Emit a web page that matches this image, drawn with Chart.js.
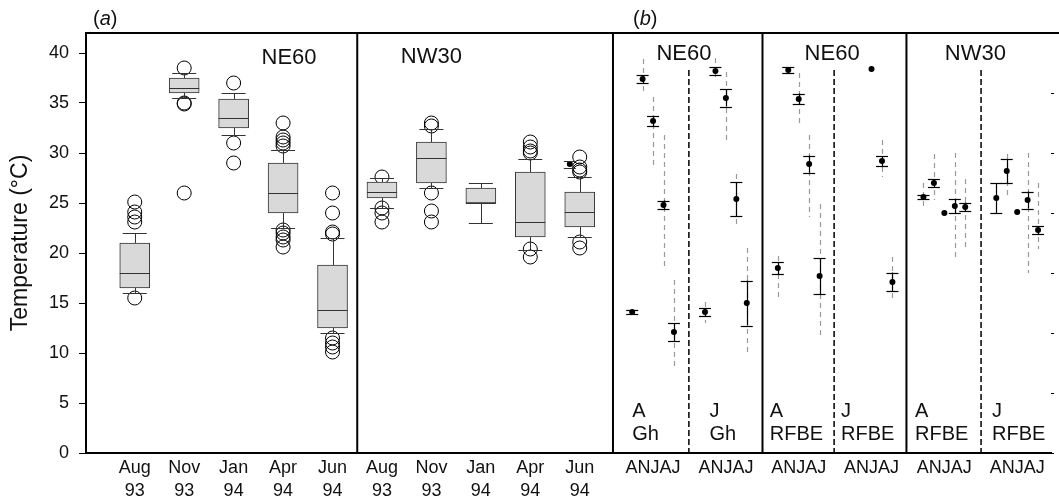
<!DOCTYPE html>
<html>
<head>
<meta charset="utf-8">
<script src="https://cdn.jsdelivr.net/npm/chart.js@4.4.0/dist/chart.umd.min.js"></script>
<style>
  html, body { margin: 0; padding: 0; background: #fff; }
</style>
</head>
<body>
<canvas id="myChart" width="1059" height="503"></canvas>
<script>
// --- Data ---
const months = ['Aug', 'Nov', 'Jan', 'Apr', 'Jun'];
const years = ['93', '93', '94', '94', '94'];
const monthLetters = 'ANJAJ';
const yTicks = [0, 5, 10, 15, 20, 25, 30, 35, 40];

// (a) box stats per month: [lower whisker, q1, median, q3, upper whisker]
const ne60Box = [
    [16, 16.5, 18, 21, 22],
    [35.5, 36, 36.5, 37.5, 38],
    [31.8, 32.5, 33.5, 35.4, 36],
    [22.5, 24, 26, 29, 30.3],
    [12, 12.5, 14.3, 18.8, 21.5]
];
const nw30Box = [
    [24.5, 25.5, 26.1, 27.1, 27.5],
    [26.5, 27, 29.5, 31.1, 32.4],
    [23, 25, 25, 26.5, 27],
    [20.3, 21.6, 23.1, 28.1, 29.4],
    [21.6, 22.6, 24.1, 26.1, 27.6]
];
const ne60Outliers = [
    [25.1, 24.1, 23.6, 23.1, 15.5],
    [38.5, 35, 34.9, 26],
    [37, 31, 29],
    [33, 31.6, 31.3, 31, 30.7, 22.3, 22, 21.6, 21.3, 20.6],
    [26, 24, 22.1, 21.9, 11.5, 11, 10.6, 10.1]
];
const nw30Outliers = [
    [27.6, 24.5, 24, 23.1],
    [33, 32.7, 26, 24.2, 23.1],
    [],
    [31.1, 30.6, 30.2, 30, 20.4, 19.6],
    [29.6, 28.6, 28.3, 28.1, 21.1, 20.5]
];
const nw30JunMark = 28.9;

// (b) six groups, each Aug..Jun: mean, error bar half width, dashed range
const groupTop = ['A', 'J', 'A', 'J', 'A', 'J'];
const groupBottom = ['Gh', 'Gh', 'RFBE', 'RFBE', 'RFBE', 'RFBE'];
const pairTitles = ['NE60', 'NE60', 'NW30'];
const groupMean = [
    [14.1, 37.4, 33.2, 24.8, 12.1],
    [14.1, 38.2, 35.5, 25.4, 15.0],
    [18.5, 38.3, 35.4, 28.9, 17.7],
    [null, null, 38.4, 29.2, 17.1],
    [25.6, 27.0, 24.0, 24.7, 24.6],
    [25.5, 28.2, 24.1, 25.3, 22.3]
];
const groupErr = [
    [0.2, 0.4, 0.5, 0.45, 0.9],
    [0.4, 0.35, 0.85, 1.7, 2.25],
    [0.6, 0.3, 0.55, 0.85, 1.8],
    [null, null, null, 0.5, 0.95],
    [0.2, 0.4, null, 0.7, 0.45],
    [1.5, 1.2, null, 0.85, 0.4]
];
const groupMin = [
    [null, 35.8, 28.8, 18.6, 8.7],
    [13.0, 37.6, 31.3, 22.5, 9.8],
    [15.2, null, 32.7, 23.6, 11.5],
    [null, null, null, 27.6, 15.2],
    [24.4, 25.3, null, 19.4, 20.5],
    [null, 25.8, null, 18.0, 20.4]
];
const groupMax = [
    [null, 39.4, 35.6, 31.8, 17.3],
    [15.1, 39.5, 38.1, 27.9, 20.5],
    [19.7, null, 38.0, 31.8, 24.9],
    [null, null, null, 31.3, 19.6],
    [27.0, 29.9, null, 30.0, 27.4],
    [null, 29.9, null, 30.0, 27.0]
];

// --- Layout (x axis runs in pixel units from the left axis) ---
const FONT = '"Liberation Sans", Arial, Helvetica, sans-serif';
const boxPos = i => 49 + i * 49.7;
const ptPos = (g, k) => 549 + g * 73.2 + k * 10.5;
const solidLines = [boxPos(4.5), 529.7, 680, 824.7];
const dashedLines = [606, 752, 899.7];
const pairTitleX = [601, 750, 894];
const groupTextX = [549, 626.7, 687.3, 759, 833.3, 910.7];

const xTickPos = [];
const xTickLabels = [];
for (let i = 0; i < 10; i++) {
    xTickPos.push(boxPos(i));
    xTickLabels.push([months[i % 5], years[i % 5]]);
}
for (let g = 0; g < 6; g++) {
    xTickPos.push(ptPos(g, 2));
    xTickLabels.push(monthLetters);
}

// --- Datasets ---
const allBoxes = ne60Box.concat(nw30Box);
const boxData = allBoxes.map((b, i) => ({ x: boxPos(i), y: [b[1], b[3]] }));

const outlierData = [];
ne60Outliers.concat(nw30Outliers).forEach((list, i) => {
    list.forEach(v => outlierData.push({ x: boxPos(i), y: v }));
});

const meanData = [];
groupMean.forEach((row, g) => {
    row.forEach((v, k) => {
        if (v !== null) meanData.push({ x: ptPos(g, k), y: v });
    });
});
meanData.push({ x: boxPos(9) - 10, y: nw30JunMark });

const crisp = v => Math.round(v) + 0.5;

function vLine(ctx, px, y1, y2) {
    ctx.beginPath();
    ctx.moveTo(crisp(px), y1);
    ctx.lineTo(crisp(px), y2);
    ctx.stroke();
}
function hLine(ctx, px, half, py) {
    ctx.beginPath();
    ctx.moveTo(px - half, crisp(py));
    ctx.lineTo(px + half, crisp(py));
    ctx.stroke();
}

// Draw whiskers, error bars, panel frames and labels
const panelPlugin = {
    id: 'panelPlugin',
    beforeDatasetsDraw(chart) {
        const { ctx, scales: { x, y } } = chart;
        ctx.save();
        ctx.strokeStyle = '#9a9a9a';
        ctx.lineWidth = 1.2;
        ctx.setLineDash([5, 4]);
        groupMin.forEach((mins, g) => {
            mins.forEach((lo, k) => {
                const hi = groupMax[g][k];
                if (lo === null || hi === null) return;
                vLine(ctx, x.getPixelForValue(ptPos(g, k)), y.getPixelForValue(hi), y.getPixelForValue(lo));
            });
        });
        ctx.restore();
    },
    afterDatasetsDraw(chart) {
        const { ctx, chartArea: a, scales: { x, y } } = chart;
        ctx.save();

        // box whiskers + medians
        ctx.strokeStyle = '#333';
        ctx.lineWidth = 1;
        allBoxes.forEach((b, i) => {
            const px = x.getPixelForValue(boxPos(i));
            vLine(ctx, px, y.getPixelForValue(b[3]), y.getPixelForValue(b[4]));
            vLine(ctx, px, y.getPixelForValue(b[1]), y.getPixelForValue(b[0]));
            hLine(ctx, px, 12, y.getPixelForValue(b[4]));
            hLine(ctx, px, 12, y.getPixelForValue(b[0]));
            hLine(ctx, px, 15, y.getPixelForValue(b[2]));
        });
        hLine(ctx, x.getPixelForValue(boxPos(9) - 10), 6, y.getPixelForValue(nw30JunMark + 0.35));
        hLine(ctx, x.getPixelForValue(boxPos(9) - 10), 6, y.getPixelForValue(nw30JunMark - 0.35));

        // error bars in (b)
        ctx.strokeStyle = '#000';
        ctx.lineWidth = 1.2;
        groupErr.forEach((row, g) => {
            row.forEach((e, k) => {
                if (e === null) return;
                const m = groupMean[g][k];
                const px = x.getPixelForValue(ptPos(g, k));
                const yHi = y.getPixelForValue(m + e);
                const yLo = y.getPixelForValue(m - e);
                vLine(ctx, px, yHi, yLo);
                hLine(ctx, px, 6, yHi);
                hLine(ctx, px, 6, yLo);
            });
        });

        // frame
        ctx.strokeStyle = '#000';
        ctx.lineWidth = 2;
        ctx.beginPath();
        ctx.moveTo(a.left - 1, a.top);
        ctx.lineTo(chart.width, a.top);
        ctx.stroke();
        solidLines.forEach(v => {
            const px = x.getPixelForValue(v);
            ctx.beginPath();
            ctx.moveTo(px, a.top);
            ctx.lineTo(px, a.bottom);
            ctx.stroke();
        });
        ctx.lineWidth = 1.5;
        ctx.setLineDash([6, 3]);
        dashedLines.forEach(v => {
            const px = x.getPixelForValue(v);
            ctx.beginPath();
            ctx.moveTo(px, y.getPixelForValue(38.3));
            ctx.lineTo(px, a.bottom);
            ctx.stroke();
        });
        ctx.setLineDash([]);

        // texts
        ctx.fillStyle = '#111';
        ctx.textBaseline = 'alphabetic';
        ctx.textAlign = 'center';
        ctx.font = '22px ' + FONT;
        ctx.fillText('NE60', x.getPixelForValue(boxPos(3) + 6), y.getPixelForValue(38.9));
        ctx.fillText('NW30', x.getPixelForValue(boxPos(6)), y.getPixelForValue(39.0));
        pairTitles.forEach((t, p) => {
            ctx.fillText(t, x.getPixelForValue(pairTitleX[p]), y.getPixelForValue(39.3));
        });

        ctx.textAlign = 'left';
        ctx.font = '20px ' + FONT;
        groupTop.forEach((t, g) => {
            const px = x.getPixelForValue(groupTextX[g]);
            ctx.fillText(t, px, y.getPixelForValue(3.6));
            ctx.fillText(groupBottom[g], px, y.getPixelForValue(1.3));
        });

        // panel tags (a) and (b)
        [['a', 93], ['b', 633]].forEach(([tag, left]) => {
            let px = left;
            ctx.font = '20px ' + FONT;
            ctx.fillText('(', px, 25);
            px += ctx.measureText('(').width;
            ctx.font = 'italic 20px ' + FONT;
            ctx.fillText(tag, px, 25);
            px += ctx.measureText(tag).width;
            ctx.font = '20px ' + FONT;
            ctx.fillText(')', px, 25);
        });

        ctx.restore();
    }
};

// Chart Setup
Chart.defaults.font.family = FONT;
Chart.defaults.color = '#111';

const ctx = document.getElementById('myChart').getContext('2d');
const myChart = new Chart(ctx, {
    type: 'scatter',
    data: {
        datasets: [
            {
                type: 'bar',
                data: boxData,
                backgroundColor: '#d9d9d9',
                borderColor: '#333',
                borderWidth: 1,
                borderSkipped: false,
                barThickness: 30,
                grouped: false,
                order: 0
            },
            {
                data: outlierData,
                pointRadius: 7,
                pointBackgroundColor: 'rgba(0,0,0,0)',
                pointBorderColor: '#000',
                pointBorderWidth: 1,
                order: 1
            },
            {
                data: meanData,
                pointRadius: 3,
                pointBackgroundColor: '#000',
                pointBorderColor: '#000',
                pointBorderWidth: 0,
                order: 0
            }
        ]
    },
    options: {
        responsive: false,
        maintainAspectRatio: false,
        animation: false,
        layout: { padding: { top: 33, right: 0, left: 0, bottom: 0 } },
        plugins: {
            legend: { display: false },
            tooltip: { enabled: false }
        },
        scales: {
            x: {
                type: 'linear',
                min: 0,
                max: 970,
                offset: false,
                grid: { offset: false, drawOnChartArea: false, drawTicks: false },
                border: { display: true, color: '#000', width: 2 },
                afterFit: scale => { scale.height = 50; },
                afterBuildTicks: scale => {
                    scale.ticks = xTickPos.map(v => ({ value: v }));
                },
                ticks: {
                    autoSkip: false,
                    maxRotation: 0,
                    padding: 4,
                    font: { size: 18, lineHeight: 1.25 },
                    color: '#111',
                    callback: (value, index) => xTickLabels[index]
                }
            },
            y: {
                min: 0,
                max: 42,
                grid: { drawOnChartArea: false, tickLength: 7, color: '#000' },
                border: { display: true, color: '#000', width: 2 },
                afterFit: scale => { scale.width = 86; },
                afterBuildTicks: scale => {
                    scale.ticks = yTicks.map(v => ({ value: v }));
                },
                ticks: {
                    autoSkip: false,
                    padding: 10,
                    font: { size: 18 },
                    color: '#111'
                },
                title: {
                    display: true,
                    text: 'Temperature (°C)',
                    font: { size: 23 },
                    color: '#111',
                    padding: { top: 7, bottom: 0 }
                }
            },
            y2: {
                position: 'right',
                min: 0,
                max: 7,
                grid: { drawOnChartArea: false, tickLength: 3, color: '#000' },
                border: { display: false },
                ticks: { display: false, stepSize: 1 },
                afterFit: scale => { scale.width = 3; }
            }
        }
    },
    plugins: [panelPlugin]
});
</script>
</body>
</html>
